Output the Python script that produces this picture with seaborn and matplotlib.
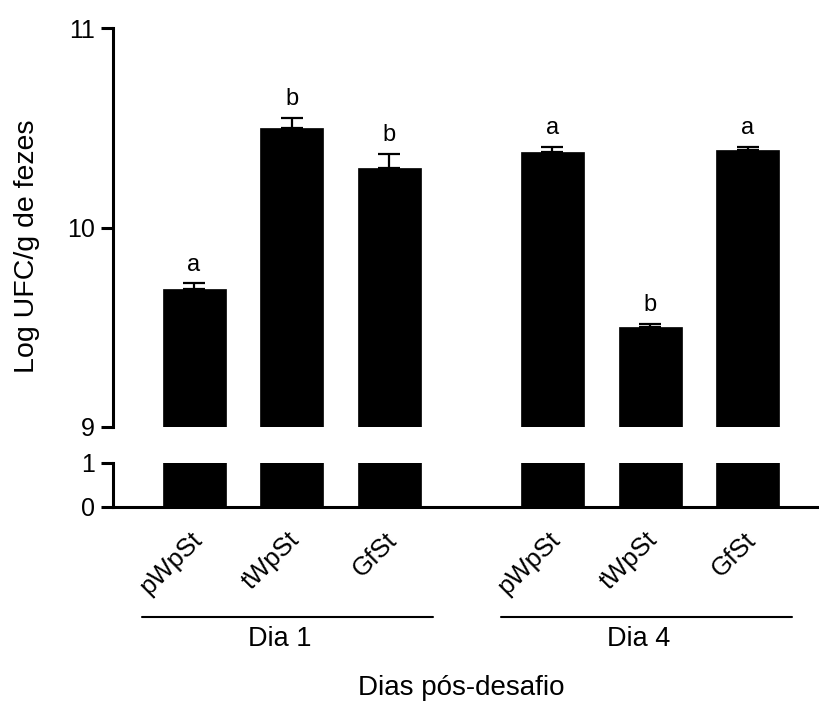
import numpy as np
import pandas as pd
import matplotlib
matplotlib.use("Agg")
import matplotlib.pyplot as plt
import matplotlib.transforms as mtransforms
import seaborn as sns

# =========================
# DATA
# =========================
days = ["Dia 1", "Dia 4"]
treatments = ["pWpSt", "tWpSt", "GfSt"]
log_ufc = [9.69, 10.50, 10.30, 10.38, 9.50, 10.39]
sem = [0.03, 0.05, 0.07, 0.025, 0.018, 0.015]
letters = ["a", "b", "b", "a", "b", "a"]

sns.set_style("ticks")
plt.rcParams["font.family"] = ["Liberation Sans", "DejaVu Sans"]
plt.rcParams.update({"text.color": "black", "axes.labelcolor": "black",
                     "xtick.color": "black", "ytick.color": "black",
                     "axes.edgecolor": "black"})

df = pd.DataFrame({
    "dia": np.repeat(days, len(treatments)),
    "grupo": treatments * len(days),
    "valor": log_ufc,
    "sem": sem,
    "letra": letters,
})
# extra space between the two days
gap = 0.67
df["pos"] = np.arange(len(df)) + gap * (df["dia"] == days[1]).astype(float)

W, H = 819, 702
fig = plt.figure(figsize=(W / 100, H / 100), dpi=100)

left = 113 / W
ax_top = fig.add_axes([left, 1 - 427 / H, 1 - left, (427 - 28) / H])
ax_bot = fig.add_axes([left, 1 - 507 / H, 1 - left, (507 - 463) / H])

for ax in (ax_top, ax_bot):
    sns.barplot(data=df, x="pos", y="valor", native_scale=True, color="black",
                saturation=1, width=0.645, errorbar=None, edgecolor="black",
                linewidth=0.5, ax=ax)
    ax.set_xlim(-0.83, 6.40)
    ax.set_xlabel("")
    ax.set_ylabel("")
    for s in ["top", "right"]:
        ax.spines[s].set_visible(False)
    for s in ["left", "bottom"]:
        ax.spines[s].set_linewidth(2.2)
    ax.tick_params(axis="y", width=2.2, length=9, labelsize=18, pad=4)

# top part of the broken axis
ax_top.set_ylim(9, 11)
ax_top.set_yticks([9, 10, 11])
ax_top.spines["bottom"].set_visible(False)
ax_top.set_xticks([])
ax_top.errorbar(df["pos"], df["valor"], yerr=[np.zeros(len(df)), df["sem"]],
                fmt="none", ecolor="black", elinewidth=1.6, capsize=8, capthick=1.6)
for x, y, e, t in zip(df["pos"], df["valor"], df["sem"], df["letra"]):
    ax_top.annotate(t, (x, y + e), xytext=(0, 9), textcoords="offset points",
                    ha="center", va="baseline", fontsize=17)

# bottom part
ax_bot.set_ylim(0, 1)
ax_bot.set_yticks([0, 1])
ax_bot.set_xticks(df["pos"])
ax_bot.set_xticklabels(df["grupo"], rotation=45, ha="right", va="center",
                       rotation_mode="anchor", fontsize=18.5)
ax_bot.tick_params(axis="x", length=0, pad=21)
shift = mtransforms.ScaledTranslation(4 / 100, 0, fig.dpi_scale_trans)
for lab in ax_bot.get_xticklabels():
    lab.set_transform(lab.get_transform() + shift)

# day brackets
trans = mtransforms.blended_transform_factory(ax_bot.transData, fig.transFigure)
for d in days:
    sub = df[df["dia"] == d]
    x0, x1 = sub["pos"].min() - 0.53, sub["pos"].max() + 0.45
    ax_bot.plot([x0, x1], [1 - 617 / H] * 2, color="black", lw=1.5,
                transform=trans, clip_on=False)
    ax_bot.text((x0 + x1) / 2 - 0.08, 1 - 639 / H, d, transform=trans,
                ha="center", va="center", fontsize=19.5)

fig.text(461 / W, 1 - 688 / H, "Dias pós-desafio", ha="center", va="center", fontsize=20)
fig.text(27 / W, 1 - 246 / H, "Log UFC/g de fezes", rotation=90,
         ha="center", va="center", fontsize=20.5)

fig.savefig("out.png", dpi=100)
